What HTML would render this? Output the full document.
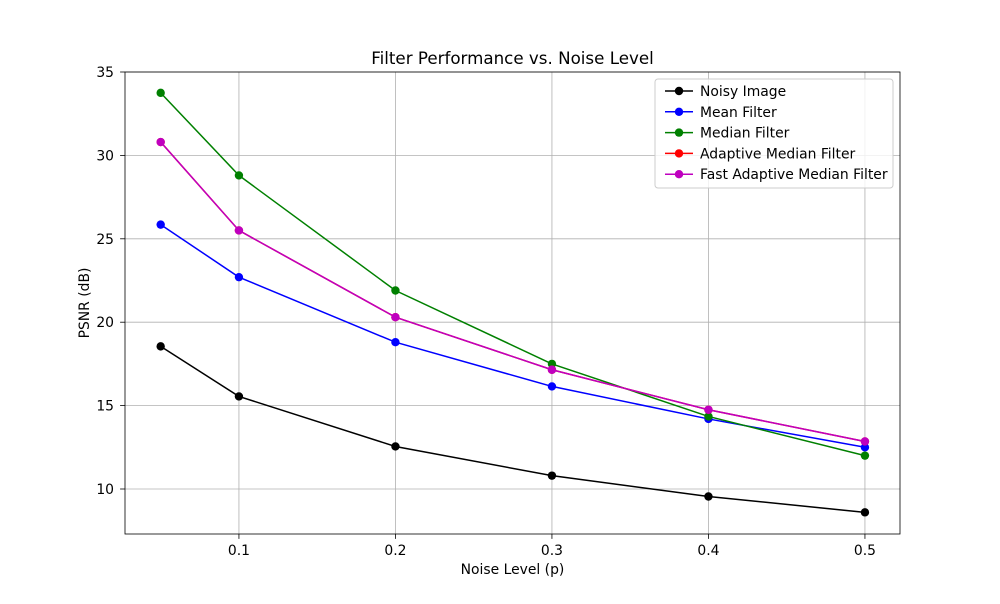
<!DOCTYPE html>
<html><head><meta charset="utf-8"><style>
body{margin:0;background:#fff;font-family:"DejaVu Sans","Liberation Sans",sans-serif;}
svg text{font-family:"DejaVu Sans","Liberation Sans",sans-serif;}
</style></head><body>
<svg id="chart" width="1000" height="600"></svg>
<script>
const xValues=[0.05,0.1,0.2,0.3,0.4,0.5];
const seriesNames=["Noisy Image","Mean Filter","Median Filter","Adaptive Median Filter","Fast Adaptive Median Filter"];
const seriesColors=["#000000","#0000ff","#008000","#ff0000","#bf00bf"];
const noisy=[18.55,15.55,12.55,10.8,9.55,8.6];
const mean=[25.85,22.7,18.8,16.15,14.2,12.5];
const median=[33.75,28.8,21.9,17.5,14.35,12.0];
const adaptive=[30.8,25.5,20.3,17.15,14.75,12.85];
const fastAdaptive=[30.8,25.5,20.3,17.15,14.75,12.85];
const xTicks=[0.1,0.2,0.3,0.4,0.5];
const yTicks=[10,15,20,25,30,35];
const seriesData=[noisy,mean,median,adaptive,fastAdaptive];

const L=125,R=900,T=72,B=534;
const xmin=0.0272,xmax=0.5224;
const y10=489;
function sx(v){return L+(v-xmin)/(xmax-xmin)*(R-L);}
function sy(v){return 72+(35-v)*(y10-72)/25;}
const svg=document.getElementById('chart');
const NS="http://www.w3.org/2000/svg";
function el(tag,attrs,parent){const e=document.createElementNS(NS,tag);for(const k in attrs)e.setAttribute(k,attrs[k]);(parent||svg).appendChild(e);return e;}

xTicks.forEach(t=>{const g=el('line',{x1:sx(t),x2:sx(t),y1:T,y2:B,stroke:'#b0b0b0','stroke-width':0.8});


const tk=el('line',{x1:sx(t),x2:sx(t),y1:B,y2:B+4.9,stroke:'#000','stroke-width':0.8});


const tx=el('text',{x:sx(t),y:B+21,'font-size':13.9,'text-anchor':'middle'});tx.textContent=String(t);

});
yTicks.forEach(t=>{const g=el('line',{x1:L,x2:R,y1:sy(t),y2:sy(t),stroke:'#b0b0b0','stroke-width':0.8});


const tk=el('line',{x1:L-4.9,x2:L,y1:sy(t),y2:sy(t),stroke:'#000','stroke-width':0.8});


const tx=el('text',{x:L-11,y:sy(t)+5,'font-size':13.9,'text-anchor':'end'});tx.textContent=String(t);

});

seriesData.forEach((d,i)=>{
const g=el('g',{});


const pts=d.map((v,j)=>sx(xValues[j])+','+sy(v)).join(' ');
const pl=el('polyline',{points:pts,fill:'none',stroke:seriesColors[i],'stroke-width':1.5},g);


d.forEach((v,j)=>{const c=el('circle',{cx:sx(xValues[j]),cy:sy(v),r:4.2,fill:seriesColors[i]},g);

});
});

const fr=el('rect',{x:L,y:T,width:R-L,height:B-T,fill:'none',stroke:'#000','stroke-width':0.8});



const title=el('text',{x:(L+R)/2,y:64,'font-size':16.7,'text-anchor':'middle'});title.textContent='Filter Performance vs. Noise Level';


const xl=el('text',{x:(L+R)/2,y:574,'font-size':13.9,'text-anchor':'middle'});xl.textContent='Noise Level (p)';


const yl=el('text',{x:89,y:(T+B)/2,'font-size':13.9,'text-anchor':'middle',transform:'rotate(-90 89 '+((T+B)/2)+')'});yl.textContent='PSNR (dB)';



const lg=el('g',{});


el('rect',{x:655,y:79,width:238,height:109,rx:3,fill:'#fff','fill-opacity':0.8,stroke:'#ccc','stroke-width':1},lg);
seriesNames.forEach((n,i)=>{const y=91+i*20.8;
const e=el('g',{},lg);


el('line',{x1:665,x2:693,y1:y,y2:y,stroke:seriesColors[i],'stroke-width':1.5},e);
el('circle',{cx:679,cy:y,r:4.2,fill:seriesColors[i]},e);
const t=el('text',{x:700,y:y+5,'font-size':13.9},e);t.textContent=n;});
</script>
</body></html>
